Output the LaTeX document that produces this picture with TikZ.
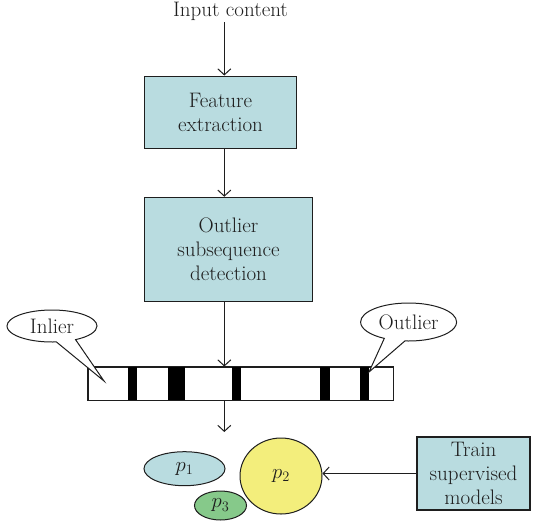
\documentclass[tikz,border=0pt]{standalone}
\usepackage{tikz}
\usetikzlibrary{arrows.meta,shapes.geometric,shapes.callouts}
\definecolor{boxblue}{HTML}{B9DCE0}
\definecolor{pyellow}{HTML}{F3EE7C}
\definecolor{pgreen}{HTML}{86C98A}
\definecolor{ink}{HTML}{1E1E1E}
\begin{document}
\begin{tikzpicture}[x=1pt,y=-1pt,
  every node/.style={font=\fontsize{21}{24}\selectfont, text=ink},
  stagebox/.style={draw=ink, line width=1.1pt, fill=boxblue, align=center, inner sep=0pt},
  blob/.style={ellipse, draw=ink, line width=1pt, inner sep=0pt},
  tag/.style={ellipse callout, draw=ink, line width=1pt, fill=white, inner sep=0pt, callout pointer arc=26},
  arr/.style={draw=ink, line width=1pt, -{Straight Barb[length=6pt,width=13pt,line width=1pt]}}]
\useasboundingbox (0,0) rectangle (534,522);

% main column of the pipeline
\coordinate (spine) at (224.3,0);
\node[inner sep=2pt] (inp) at (230.5,11) {Input content};
\node[stagebox, minimum width=152.4pt, minimum height=72.3pt] (feat) at (220.5,112.2) {Feature\\extraction};
\node[stagebox, minimum width=168.4pt, minimum height=104.4pt] (det) at (228.5,249.5) {Outlier\\subsequence\\detection};

% sequence bar with detected subsequences
\node[draw=ink, line width=1pt, fill=white, minimum width=305pt, minimum height=33pt, inner sep=0pt] (bar) at (240.5,383.5) {};
\foreach \a/\b in {128/137, 168/185, 232/241, 320/330, 360/369}
  \fill[black] (\a,367) rectangle (\b,400);
\draw[draw=ink, line width=1pt] (bar.north west) rectangle (bar.south east);

% callouts
\node[tag, minimum width=90pt, minimum height=32pt, callout absolute pointer={(104,381)}] (inl) at (52,326) {Inlier};
\node[tag, minimum width=96pt, minimum height=38pt, callout absolute pointer={(369,372)}] (outl) at (408.6,322) {Outlier};

% model clusters
\coordinate (drop) at (224.3,432);
\node[blob, fill=boxblue, minimum width=81pt, minimum height=34pt] (p1) at (184.5,468.7) {$p_1$};
\node[blob, fill=pyellow, minimum width=82pt, minimum height=76pt] (p2) at (281,476) {$p_2$};
\node[blob, fill=pgreen, minimum width=52pt, minimum height=29pt] (p3) at (220.5,505.5) {$p_3$};
\node[stagebox, minimum width=113pt, minimum height=73pt] (train) at (473.5,473.5) {Train\\supervised\\models};

% connectors
\draw[arr] (inp.south -| spine) -- (feat.north -| spine);
\draw[arr] (feat.south -| spine) -- (det.north -| spine);
\draw[arr] (det.south -| spine) -- (bar.north -| spine);
\draw[arr] (bar.south -| spine) -- (drop);
\draw[arr] (train.west) -- (train.west -| p2.east);
\end{tikzpicture}
\end{document}
